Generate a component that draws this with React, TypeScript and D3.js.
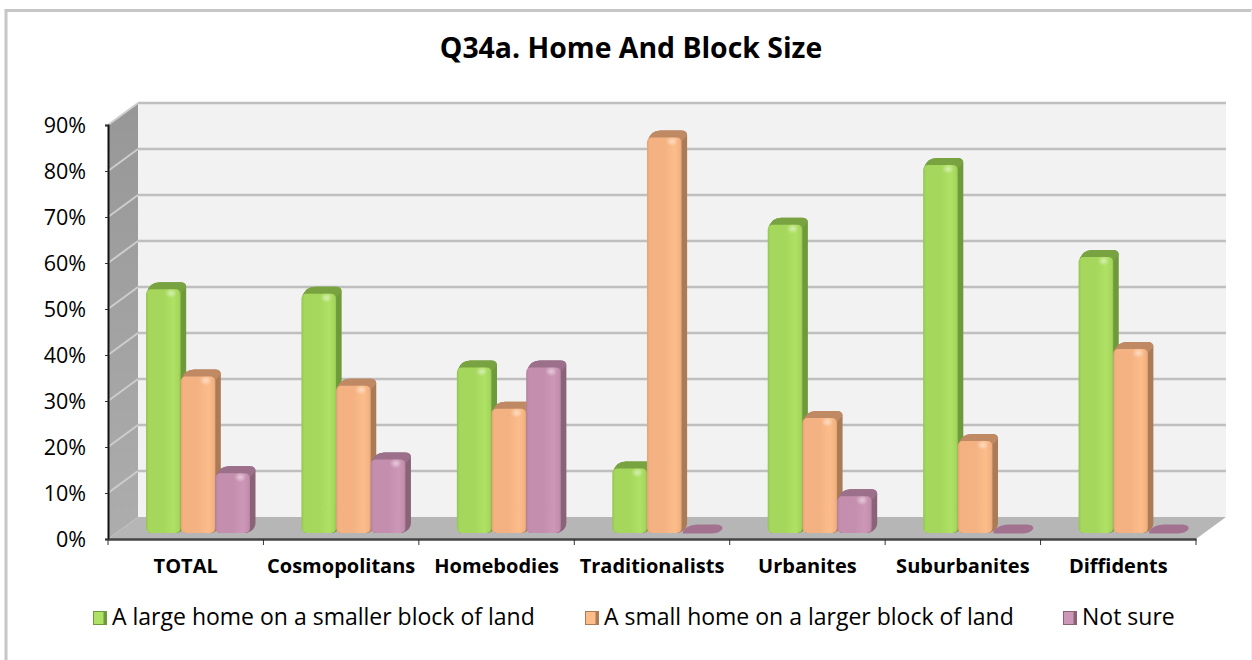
import { useEffect, useRef } from "react";
import * as d3 from "d3";

const categories = ["TOTAL", "Cosmopolitans", "Homebodies", "Traditionalists", "Urbanites", "Suburbanites", "Diffidents"];
const seriesNames = ["A large home on a smaller block of land", "A small home on a larger block of land", "Not sure"];
const largeHome = [53, 52, 36, 14, 67, 80, 60];
const smallHome = [34, 32, 27, 86, 25, 20, 40];
const notSure = [13, 16, 36, 0, 8, 0, 0];
const yTicks = [0, 10, 20, 30, 40, 50, 60, 70, 80, 90];
const title = "Q34a. Home And Block Size";

const seriesValues = [largeHome, smallHome, notSure];
const colors = [
  { dark: "#94c552", base: "#a5d75c", light: "#aee164", side: "#6f9a3b", top: "#79a340", key: "green" },
  { dark: "#e2a476", base: "#f4b283", light: "#fcbd8a", side: "#ab7b55", top: "#bf8a63", key: "orange" },
  { dark: "#b3819e", base: "#c48fae", light: "#cd98b8", side: "#8a6379", top: "#9c6f8a", key: "purple" },
];

const FONT = "'Open Sans', 'Noto Sans', sans-serif";
const width = 1252;
const height = 660;
const left = 108;
const right = 1196;
const bottom = 539;
const top = 125;
const wallDx = 30;
const wallDy = -22;

export default function App() {
  const svgRef = useRef<SVGSVGElement>(null);

  useEffect(() => {
    const svg = d3.select(svgRef.current);
    svg.selectAll("*").remove();
    svg.attr("width", width).attr("height", height);

    const x0 = d3.scaleBand().domain(categories).range([left, right]);
    const x1 = d3.scaleBand<number>().domain([0, 1, 2]).range([38, 38 + 104]);
    const y = d3.scaleLinear().domain([0, 90]).range([bottom, top]);

    const defs = svg.append("defs");
    colors.forEach((c) => {
      const g = defs.append("linearGradient").attr("id", `face-${c.key}`);
      g.append("stop").attr("offset", "0").attr("stop-color", c.dark);
      g.append("stop").attr("offset", "0.08").attr("stop-color", c.base);
      g.append("stop").attr("offset", "0.5").attr("stop-color", c.base);
      g.append("stop").attr("offset", "0.8").attr("stop-color", c.light);
      g.append("stop").attr("offset", "0.95").attr("stop-color", c.base);
      g.append("stop").attr("offset", "1").attr("stop-color", c.dark);
      const h = defs.append("radialGradient").attr("id", `spot-${c.key}`);
      h.append("stop").attr("offset", "0").attr("stop-color", "#fff").attr("stop-opacity", 0.5);
      h.append("stop").attr("offset", "1").attr("stop-color", "#fff").attr("stop-opacity", 0);
    });
    const wallGrad = defs.append("linearGradient").attr("id", "sideWall").attr("x1", 0).attr("x2", 0).attr("y1", 0).attr("y2", 1);
    wallGrad.append("stop").attr("offset", "0").attr("stop-color", "#979797");
    wallGrad.append("stop").attr("offset", "1").attr("stop-color", "#adadad");

    // frame
    svg.append("rect").attr("width", width).attr("height", height).attr("fill", "#fff");
    svg.append("path")
      .attr("d", `M6,${height}V10.5H${width}`)
      .attr("fill", "none")
      .attr("stroke", "#c6c6c6")
      .attr("stroke-width", 3);
    svg.append("line")
      .attr("x1", width - 0.5).attr("x2", width - 0.5)
      .attr("y1", 10).attr("y2", height)
      .attr("stroke", "#eeeeee");

    svg.append("text")
      .attr("x", 631)
      .attr("y", 58)
      .attr("text-anchor", "middle")
      .attr("font-family", FONT)
      .attr("font-weight", 700)
      .attr("font-size", 28.4)
      .attr("fill", "#000")
      .text(title);

    // walls and floor
    const backL = left + wallDx;
    const backR = right + wallDx;
    svg.append("rect")
      .attr("x", backL).attr("y", y(90) + wallDy)
      .attr("width", backR - backL).attr("height", y(0) - y(90))
      .attr("fill", "#f2f2f2");
    svg.append("path")
      .attr("d", `M${left},${y(0)}L${backL},${y(0) + wallDy}V${y(90) + wallDy}L${left},${y(90)}Z`)
      .attr("fill", "url(#sideWall)");
    svg.append("path")
      .attr("d", `M${left},${y(0)}L${backL},${y(0) + wallDy}H${backR}L${right},${y(0)}Z`)
      .attr("fill", "#b6b6b6");

    // gridlines on back and side wall
    yTicks.forEach((t) => {
      const yy = y(t);
      if (t > 0) {
        svg.append("line")
          .attr("x1", backL).attr("x2", backR)
          .attr("y1", yy + wallDy).attr("y2", yy + wallDy)
          .attr("stroke", "#bfbfbf").attr("stroke-width", 2.5);
        svg.append("line")
          .attr("x1", left).attr("x2", backL)
          .attr("y1", yy).attr("y2", yy + wallDy)
          .attr("stroke", "#cdcdcd").attr("stroke-width", 2);
      }
    });

    // bars
    const depthX = 5.5;
    const depthY = 7;
    const base = y(0) - 6;
    const barGroups = svg.append("g");
    categories.forEach((cat, ci) => {
      seriesValues.forEach((vals, si) => {
        const v = vals[ci];
        const c = colors[si];
        const bx = x0(cat)! + x1(si)!;
        const bw = x1.bandwidth();
        const g = barGroups.append("g");
        if (v === 0) {
          // a zero value only leaves the flat lid on the floor
          g.append("path")
            .attr("d",
              `M${bx + 1},${base}` +
              `Q${bx + 1},${base - 4} ${bx + 8},${base - 7}` +
              `Q${bx + 11},${base - 8.5} ${bx + 16},${base - 8.5}` +
              `H${bx + bw}` +
              `Q${bx + bw + 7},${base - 8} ${bx + bw + 6},${base - 4}` +
              `Q${bx + bw + 3},${base + 0.5} ${bx + bw - 6},${base + 0.5}` +
              `H${bx + 4}Q${bx + 1},${base + 0.5} ${bx + 1},${base}Z`)
            .attr("fill", "#a27290");
          return;
        }
        const by = base - (y(0) - y(v));
        const r = 5;
        const lid =
          `M${bx + 1},${by + 4}` +
          `Q${bx + 1},${by} ${bx + depthX},${by - depthY + 2.5}` +
          `Q${bx + depthX + 3},${by - depthY} ${bx + depthX + 8},${by - depthY}` +
          `H${bx + bw + depthX - 6}` +
          `Q${bx + bw + depthX},${by - depthY} ${bx + bw + depthX},${by - depthY + 5}`;
        g.append("path")
          .attr("d",
            lid +
            `V${base - 10}` +
            `Q${bx + bw + depthX},${base - 3} ${bx + bw - 3},${base}` +
            `H${bx + 3}Z`)
          .attr("fill", c.side);
        g.append("path")
          .attr("d", lid + `L${bx + bw},${by + 4}Z`)
          .attr("fill", c.top);
        g.append("rect")
          .attr("x", bx).attr("y", by)
          .attr("width", bw).attr("height", base - by)
          .attr("rx", r).attr("ry", r)
          .attr("fill", `url(#face-${c.key})`);
        g.append("ellipse")
          .attr("cx", bx + bw * 0.72).attr("cy", by + 4)
          .attr("rx", 6).attr("ry", 5)
          .attr("fill", `url(#spot-${c.key})`);
      });
    });

    // axes
    const yAxis = d3.axisLeft(y)
      .tickValues(yTicks)
      .tickFormat((d) => `${d}%`)
      .tickSize(3)
      .tickPadding(19);
    const yG = svg.append("g").attr("transform", `translate(${left},0)`).call(yAxis);
    yG.select(".domain").attr("stroke", "#111").attr("stroke-width", 2);
    yG.selectAll(".tick line").attr("stroke", "#333");
    yG.selectAll("text")
      .attr("dy", "0.36em")
      .attr("font-family", FONT)
      .attr("font-size", 21.5)
      .attr("fill", "#000");

    const xBoundaries = d3.scaleLinear().domain([0, categories.length]).range([left, right]);
    const xAxis = d3.axisBottom(x0).tickSize(0).tickPadding(20);
    const xG = svg.append("g").attr("transform", `translate(0,${bottom})`).call(xAxis);
    xG.select(".domain").attr("stroke", "#444").attr("stroke-width", 2.5);
    xG.selectAll("text")
      .attr("font-family", FONT)
      .attr("font-weight", 700)
      .attr("font-size", 20)
      .attr("fill", "#000");
    d3.range(categories.length + 1).forEach((i) => {
      xG.append("line")
        .attr("x1", xBoundaries(i)).attr("x2", xBoundaries(i))
        .attr("y1", 0).attr("y2", 6)
        .attr("stroke", "#333");
    });

    // legend
    const legendX = d3.scaleOrdinal<number, number>().domain([0, 1, 2]).range([93, 585, 1063]);
    seriesNames.forEach((name, i) => {
      const lx = legendX(i);
      const c = colors[i];
      const g = svg.append("g").attr("transform", `translate(${lx},0)`);
      g.append("rect").attr("x", 0).attr("y", 611).attr("width", 14).attr("height", 14).attr("fill", c.side);
      g.append("rect").attr("x", 1).attr("y", 612).attr("width", 9.5).attr("height", 12).attr("fill", c.light);
      g.append("text")
        .attr("x", 19)
        .attr("y", 625)
        .attr("font-family", FONT)
        .attr("font-size", 23)
        .attr("fill", "#000")
        .text(name);
    });
  }, []);

  return <svg ref={svgRef} style={{ position: "absolute", left: 0, top: 0 }}></svg>;
}
